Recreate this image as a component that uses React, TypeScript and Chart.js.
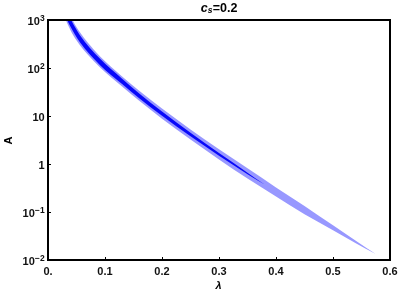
import React, { useEffect, useRef } from 'react';
import { Chart, registerables } from 'chart.js';

Chart.register(...registerables);

// Outer (light) allowed band: lambda and A bounds
const lightLambda = [0.028, 0.037, 0.045, 0.056, 0.070, 0.091, 0.110, 0.130, 0.160, 0.200, 0.250, 0.300, 0.350, 0.400, 0.450, 0.500, 0.540, 0.575];
const lightUpper = [2483, 1413, 902, 556, 335, 176, 107, 66.8, 33.5, 14.3, 5.24, 2.02, 0.811, 0.325, 0.134, 0.0527, 0.0253, 0.0133];
const lightLower = [1216, 708, 462, 299, 188, 104, 64.6, 41.2, 20.7, 8.79, 3.23, 1.247, 0.500, 0.210, 0.0893, 0.0415, 0.0224, 0.0133];

// Inner (dark) band
const darkLambda = [0.028, 0.037, 0.056, 0.091, 0.130, 0.160, 0.200, 0.250, 0.300, 0.350, 0.380];
const darkUpper = [2138, 1216, 484, 157, 59.6, 29.5, 12.4, 4.47, 1.69, 0.659, 0.372];
const darkLower = [1413, 822, 343, 116, 46.2, 23.4, 10.1, 3.78, 1.49, 0.615, 0.372];

const xTicks = [0, 0.1, 0.2, 0.3, 0.4, 0.5, 0.6];
const xTickLabels = ['0.', '0.1', '0.2', '0.3', '0.4', '0.5', '0.6'];
const yTicks = [0.01, 0.1, 1, 10, 100, 1000];
const yTickBase = ['10', '10', '1', '10', '10', '10'];
const yTickExp = ['\u22122', '\u22121', '', '', '2', '3'];

const LIGHT = 'rgb(152,152,255)';
const DARK = 'rgb(8,8,250)';
const FONT = '"Liberation Sans", Arial, sans-serif';

const pts = (xs: number[], ys: number[]) => xs.map((x, i) => ({ x, y: ys[i] }));

const decorPlugin = {
  id: 'decor',
  afterDraw(chart: any) {
    const { ctx, chartArea } = chart;
    const xs = chart.scales.x;
    const ys = chart.scales.y;
    const { left, right, top, bottom } = chartArea;
    ctx.save();
    ctx.strokeStyle = '#000';
    ctx.lineWidth = 2;
    ctx.strokeRect(left, top, right - left, bottom - top);
    ctx.lineWidth = 1;
    xTicks.forEach((v) => {
      const px = Math.round(xs.getPixelForValue(v)) + 0.5;
      ctx.beginPath();
      ctx.moveTo(px, bottom);
      ctx.lineTo(px, bottom - 3);
      ctx.stroke();
    });
    yTicks.forEach((v) => {
      const py = Math.round(ys.getPixelForValue(v)) + 0.5;
      ctx.beginPath();
      ctx.moveTo(left, py);
      ctx.lineTo(left + 3, py);
      ctx.stroke();
    });
    ctx.fillStyle = '#111';
    ctx.font = `bold 11px ${FONT}`;
    ctx.textAlign = 'center';
    ctx.textBaseline = 'alphabetic';
    xTicks.forEach((v, i) => {
      const px = xs.getPixelForValue(v);
      ctx.fillText(xTickLabels[i], px, bottom + 14.7);
    });
    const rx = left - 3.3;
    yTicks.forEach((v, i) => {
      const py = ys.getPixelForValue(v);
      ctx.textAlign = 'right';
      let baseRight = rx;
      if (yTickExp[i]) {
        ctx.font = `bold 8.5px ${FONT}`;
        const w = ctx.measureText(yTickExp[i]).width;
        ctx.fillText(yTickExp[i], rx, py + 0.6);
        baseRight = rx - w - 0.2;
      }
      ctx.font = `bold 11px ${FONT}`;
      ctx.fillText(yTickBase[i], baseRight, py + 4.6);
    });
    const cx = (left + right) / 2;
    ctx.fillStyle = '#000';
    ctx.textAlign = 'left';
    const f1 = `italic bold 12.5px ${FONT}`;
    const f2 = `italic bold 8.5px ${FONT}`;
    const f3 = `bold 12.5px ${FONT}`;
    ctx.font = f1; const w1 = ctx.measureText('c').width;
    ctx.font = f2; const w2 = ctx.measureText('s').width;
    ctx.font = f3; const w3 = ctx.measureText('=0.2').width;
    let tx = cx - (w1 + w2 + w3) / 2;
    const tb = 11.7;
    ctx.font = f1; ctx.fillText('c', tx, tb); tx += w1;
    ctx.font = f2; ctx.fillText('s', tx, tb + 1.3); tx += w2 + 0.3;
    ctx.font = f3; ctx.fillText('=0.2', tx, tb);
    ctx.font = `italic bold 11px ${FONT}`;
    ctx.textAlign = 'center';
    ctx.fillText('\u03bb', cx - 0.5, 288.5);
    ctx.save();
    ctx.translate(11.7, (top + bottom) / 2 + 0.5);
    ctx.rotate(-Math.PI / 2);
    ctx.font = `bold 11px ${FONT}`;
    ctx.fillText('A', 0, 0);
    ctx.restore();
    ctx.restore();
  },
};

export default function App() {
  const ref = useRef<HTMLCanvasElement | null>(null);
  useEffect(() => {
    if (!ref.current) return;
    const common = { pointRadius: 0, borderWidth: 0, borderColor: 'rgba(0,0,0,0)', cubicInterpolationMode: 'monotone' };
    const chart = new Chart(ref.current, {
      type: 'line',
      data: {
        datasets: [
          // dark band first: lower indices are painted last (on top)
          { ...common, data: pts(darkLambda, darkUpper), fill: false },
          { ...common, data: pts(darkLambda, darkLower), fill: '-1', backgroundColor: DARK },
          { ...common, data: pts(lightLambda, lightUpper), fill: false },
          { ...common, data: pts(lightLambda, lightLower), fill: '-1', backgroundColor: LIGHT },
        ],
      } as any,
      options: {
        animation: false,
        responsive: false,
        devicePixelRatio: 1,
        layout: { padding: { left: 48, top: 20, right: 9, bottom: 39 } },
        plugins: { legend: { display: false }, tooltip: { enabled: false }, title: { display: false } },
        scales: {
          x: { type: 'linear', min: 0, max: 0.6, display: false },
          y: { type: 'logarithmic', min: 0.01, max: 1000, display: false },
        },
      } as any,
      plugins: [decorPlugin],
    });
    return () => chart.destroy();
  }, []);
  return (
    <div style={{ position: 'fixed', left: 0, top: 0, width: 399, height: 299, background: '#fff' }}>
      <canvas ref={ref} width={399} height={299} style={{ display: 'block' }} />
    </div>
  );
}
